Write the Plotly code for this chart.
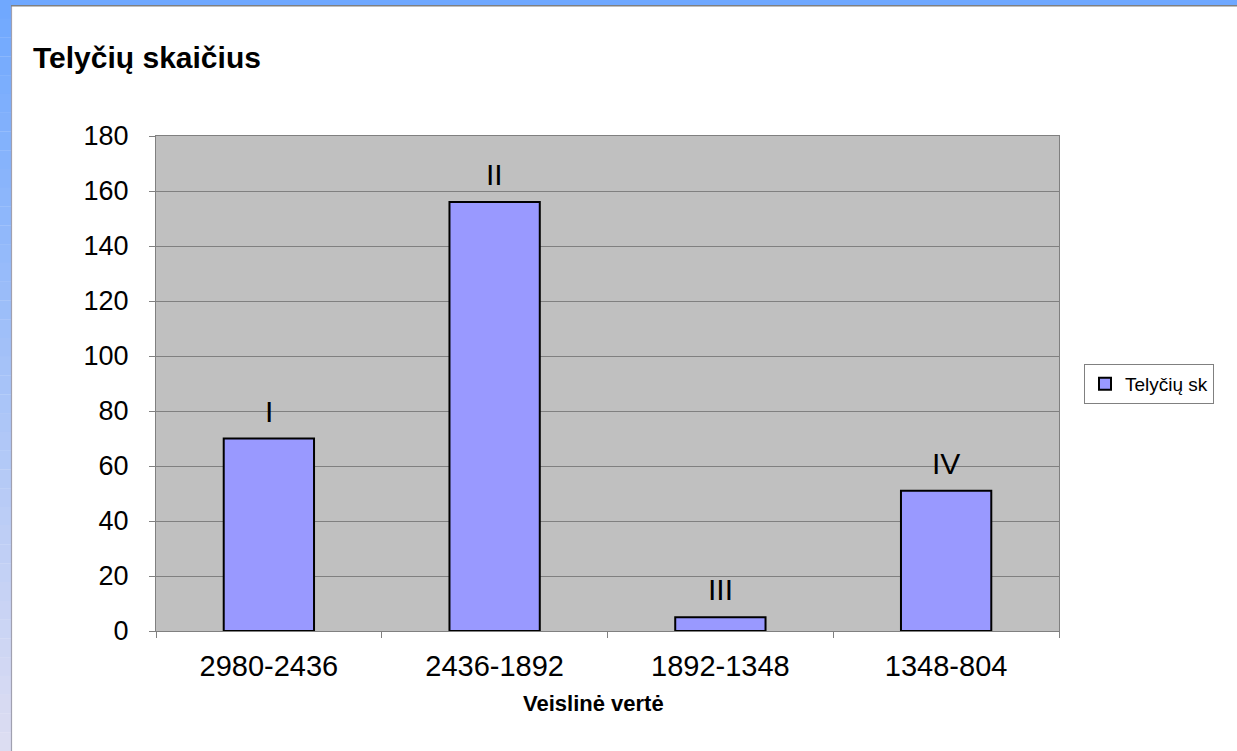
import plotly.graph_objects as go

categories = ["2980-2436", "2436-1892", "1892-1348", "1348-804"]
values = [70, 156, 5, 51]
bar_labels = ["I", "II", "III", "IV"]
series_name = "Telyčių sk"
title_text = "Telyčių skaičius"
x_title = "Veislinė vertė"

W, H = 1237, 751
L, R, T, B = 156, 1059, 136, 631

def fx(px):
    return (px - L) / (R - L)

def fy(py):
    return (B - py) / (B - T)

FONT = "Liberation Sans, Arial"

fig = go.Figure()
fig.add_trace(go.Bar(
    x=categories, y=values, name=series_name,
    marker=dict(color="#9999ff", line=dict(color="black", width=2)),
    width=0.4, showlegend=True,
))

for c, v, t in zip(categories, values, bar_labels):
    fig.add_annotation(x=c, y=v, text=t, showarrow=False, yanchor="bottom",
                       yshift=9, font=dict(size=30, color="black", family=FONT))

# x axis title as annotation (positioned like the reference)
fig.add_annotation(x=fx(593), y=fy(703), xref="paper", yref="paper", text="<b>%s</b>" % x_title,
                   showarrow=False, xanchor="center", yanchor="middle",
                   font=dict(size=22, color="black", family=FONT))

shapes = []
# left gradient strip
n = 40
top_c = (111, 168, 255)
bot_c = (222, 222, 242)
for i in range(n):
    f0 = i / n
    f1 = (i + 1) / n
    cc = tuple(int(top_c[k] + (bot_c[k] - top_c[k]) * (f0 + f1) / 2) for k in range(3))
    shapes.append(dict(type="rect", xref="paper", yref="paper",
                       x0=fx(0), x1=fx(11), y0=fy(f0 * H), y1=fy(f1 * H) - 0.0005,
                       fillcolor="rgb(%d,%d,%d)" % cc, line=dict(width=0), layer="below"))
shapes.append(dict(type="line", xref="paper", yref="paper", x0=fx(11.5), x1=fx(11.5),
                   y0=fy(0), y1=fy(H), line=dict(color="#a0a0b0", width=1.2)))
# top strip
shapes.append(dict(type="rect", xref="paper", yref="paper", x0=fx(11), x1=fx(W),
                   y0=fy(0), y1=fy(5), fillcolor="#6fa8ff", line=dict(width=0)))
shapes.append(dict(type="line", xref="paper", yref="paper", x0=fx(11), x1=fx(W),
                   y0=fy(5.8), y1=fy(5.8), line=dict(color="#808080", width=1.5)))

fig.update_layout(
    width=W, height=H,
    margin=dict(l=L, r=W - R, t=T, b=H - B, autoexpand=False),
    paper_bgcolor="white", plot_bgcolor="#c0c0c0",
    font=dict(family=FONT, color="black"),
    title=dict(text="<b>%s</b>" % title_text, x=33 / W, xref="container", xanchor="left",
               y=1 - 57 / H, yref="container", yanchor="middle", font=dict(size=30)),
    bargap=0.6,
    shapes=shapes,
    legend=dict(x=fx(1084), y=fy(364), xanchor="left", yanchor="top",
                bordercolor="#808080", borderwidth=1, bgcolor="white",
                font=dict(size=19), itemsizing="constant", itemwidth=30),
    showlegend=True,
)
fig.update_xaxes(
    showgrid=False, tickson="boundaries", ticks="outside", ticklen=6, tickcolor="#808080",
    showline=True, linecolor="#808080", mirror=True, linewidth=1,
    tickfont=dict(size=29), ticklabelstandoff=9,
)
fig.update_yaxes(
    range=[0, 180], dtick=20, showgrid=True, gridcolor="#808080", gridwidth=1,
    ticks="outside", ticklen=6, tickcolor="#808080",
    showline=True, linecolor="#808080", mirror=True, linewidth=1,
    tickfont=dict(size=27), zeroline=False, ticklabelstandoff=15,
)

fig.write_html("out.html", config={"displayModeBar": False},
               post_script="document.body.style.margin='0';")
